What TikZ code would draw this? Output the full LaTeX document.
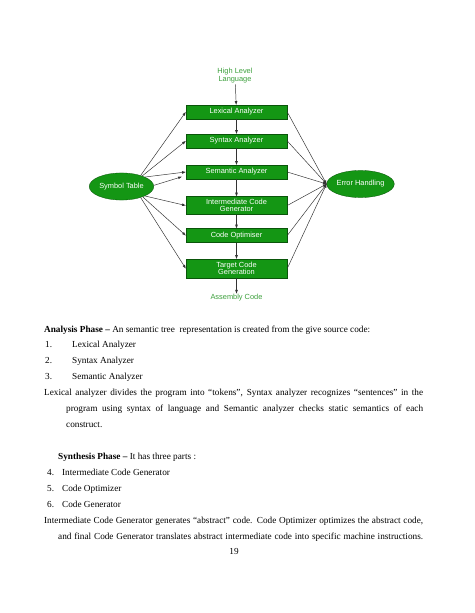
\documentclass[tikz,border=0pt]{standalone}
\usepackage{fontspec}
\setmainfont{Liberation Serif}
\newfontfamily\diagfont{Liberation Sans}
\usetikzlibrary{positioning,shapes.geometric,arrows}

\definecolor{boxgreen}{RGB}{20,150,20}
\definecolor{edgegreen}{RGB}{10,85,10}
\definecolor{labelgreen}{RGB}{60,160,60}

\begin{document}
\begin{tikzpicture}[
		  x=1.255pt,y=-1.255pt,
		  phase/.style={draw=edgegreen,fill=boxgreen,text=white,minimum width=127pt,minimum height=17.5pt,align=center,inner sep=0.5pt,font=\diagfont\fontsize{9.3}{9.5}\selectfont},
		  twoline/.style={phase,minimum height=22.5pt},
		  store/.style={ellipse,draw=edgegreen,fill=boxgreen,text=white,minimum width=81pt,minimum height=34pt,inner sep=0pt,font=\diagfont\fontsize{9.3}{10}\selectfont},
		  io/.style={text=labelgreen,align=center,inner sep=1pt,font=\diagfont\fontsize{9.3}{10}\selectfont},
		  flow/.style={-latex,line width=0.6pt,draw=black!80},
		  body/.style={anchor=base west,inner sep=0pt,font=\fontsize{11.6}{14}\selectfont}
		]
		\fill[white] (0,0) rectangle (474,613);
		\useasboundingbox (0,0) rectangle (474,613);
		% compiler phases
		\node[io] (hll) at (235,76) {High Level\\Language};
		\node[phase] (lex) at (236.5,112) {Lexical Analyzer};
		\node[phase] (syn) at (236.5,141) {Syntax Analyzer};
		\node[phase] (sem) at (236.5,172) {Semantic Analyzer};
		\node[twoline] (icg) at (236.5,205.5) {Intermediate Code\\Generator};
		\node[phase] (opt) at (236.5,235.5) {Code Optimiser};
		\node[twoline,minimum height=23.8pt] (tcg) at (236.5,268.5) {Target Code\\Generation};
		\node[io] (asm) at (236.5,298) {Assembly Code};
		\node[store] (sym) at (121.5,186.5) {Symbol Table};
		\node[store] (err) at (360.5,184) {Error Handling};
		\coordinate (semlow) at ([xshift=-5pt,yshift=-6pt]sem.west);
		\path (hll) edge[flow] (lex)
			(lex) edge[flow] (syn)
			(syn) edge[flow] (sem)
			(sem) edge[flow] (icg)
			(icg) edge[flow] (opt)
			(opt) edge[flow] (tcg)
			(tcg) edge[flow] (asm);
		\path (sym.30) edge[flow] (lex.west)
			(sym.27) edge[flow] (syn.west)
			(sym.22) edge[flow] (sem.west)
			(sym.2) edge[flow] (semlow)
			(sym.-22) edge[flow] (icg.west)
			(sym.-26) edge[flow] (opt.west)
			(sym.-30) edge[flow] (tcg.west);
		\path (lex.east) edge[flow] (err.west)
			(syn.east) edge[flow] (err.west)
			(sem.east) edge[flow] (err.west)
			(icg.east) edge[flow] (err.west)
			(opt.east) edge[flow] (err.west)
			(tcg.east) edge[flow] (err.west);
		% page text
		\node[body] (ana) at (44,332) {\textbf{Analysis Phase –} An semantic tree\ \ representation is created from the give source code:};
		\node[body] (n1) at (45,347) {1.};
		\node[body] (t1) at (72,347) {Lexical Analyzer};
		\node[body] (n2) at (45,363) {2.};
		\node[body] (t2) at (72,363) {Syntax Analyzer};
		\node[body] (n3) at (45,379) {3.};
		\node[body] (t3) at (72,379) {Semantic Analyzer};
		\node[body] (la1) at (44,395) {\makebox[475.6pt][s]{Lexical analyzer divides the program into “tokens”, Syntax analyzer recognizes “sentences” in the}};
		\node[body] (la2) at (66,411) {\makebox[448pt][s]{program using syntax of language and Semantic analyzer checks static semantics of each}};
		\node[body] (la3) at (66,427) {construct.};
		\node[body] (syp) at (58,459) {\textbf{Synthesis Phase –} It has three parts :};
		\node[body] (n4) at (47,475) {4.};
		\node[body] (t4) at (62,475) {Intermediate Code Generator};
		\node[body] (n5) at (47,491) {5.};
		\node[body] (t5) at (62,491) {Code Optimizer};
		\node[body] (n6) at (47,507) {6.};
		\node[body] (t6) at (62,507) {Code Generator};
		\node[body] (ic1) at (44,523) {\makebox[475.6pt][s]{Intermediate Code Generator generates “abstract” code. Code Optimizer optimizes the abstract code,}};
		\node[body] (ic2) at (58,539) {\makebox[458pt][s]{and final Code Generator translates abstract intermediate code into specific machine instructions.}};
		\node[body,anchor=base] (pg) at (234,554) {19};
		\end{tikzpicture}
\end{document}
